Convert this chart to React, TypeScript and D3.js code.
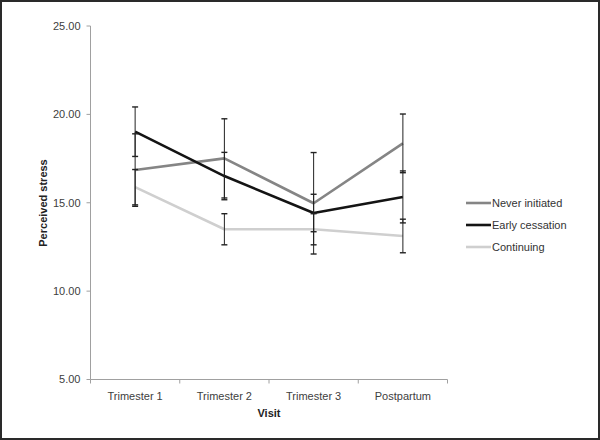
import React from "react";
import * as d3 from "d3";

const categories = ["Trimester 1", "Trimester 2", "Trimester 3", "Postpartum"];
const seriesNames = ["Never initiated", "Early cessation", "Continuing"];
const neverInitiated = [16.85, 17.51, 14.97, 18.36];
const neverInitiatedErr = [2.05, 2.24, 2.87, 1.66];
const earlyCessation = [19.02, 16.51, 14.42, 15.33];
const earlyCessationErr = [1.4, 1.34, 1.06, 1.47];
const continuing = [15.88, 13.5, 13.5, 13.12];
const continuingErr = [1.0, 0.88, 0.88, 0.95];
const yTicks = [5, 10, 15, 20, 25];
const seriesColors = ["#858585", "#141414", "#cfcfcf"];

export default function App() {
  const W = 600, H = 440;
  const left = 90.5, right = 447.5, top = 26, bottom = 379.5;
  const x = d3.scaleBand().domain(categories).range([left, right]);
  const y = d3.scaleLinear().domain([5, 25]).range([bottom, top]);
  const cx = (c: string) => (x(c) as number) + x.bandwidth() / 2;
  const series = [
    { name: seriesNames[0], values: neverInitiated, err: neverInitiatedErr, color: seriesColors[0] },
    { name: seriesNames[1], values: earlyCessation, err: earlyCessationErr, color: seriesColors[1] },
    { name: seriesNames[2], values: continuing, err: continuingErr, color: seriesColors[2] },
  ];
  const line = d3.line<number>().x((_, i) => cx(categories[i])).y((v) => y(v));
  const font = "'Liberation Sans', Arial, sans-serif";
  const xTickPositions = [...categories.map((c) => x(c) as number), right];

  return (
    <svg width={W} height={H} style={{ position: "absolute", left: 0, top: 0, background: "#fff" }} fontFamily={font}>
      <rect x={1} y={1} width={W - 2} height={H - 2} fill="#fff" stroke="#2a2a2a" strokeWidth={2} />
      {/* axes */}
      <line x1={left} x2={left} y1={top} y2={bottom} stroke="#a0a0a0" strokeWidth={1} />
      <line x1={left} x2={right} y1={bottom} y2={bottom} stroke="#a0a0a0" strokeWidth={1} />
      {yTicks.map((t) => (
        <g key={t}>
          <line x1={left - 4} x2={left} y1={y(t)} y2={y(t)} stroke="#a0a0a0" />
          <text x={80.5} y={y(t)} dy="0.35em" textAnchor="end" fontSize={11} fill="#404040">
            {t.toFixed(2)}
          </text>
        </g>
      ))}
      {xTickPositions.map((p, i) => (
        <line key={i} x1={p} x2={p} y1={bottom} y2={bottom + 4} stroke="#a0a0a0" />
      ))}
      {categories.map((c) => (
        <text key={c} x={cx(c)} y={400} textAnchor="middle" fontSize={11} fill="#404040">
          {c}
        </text>
      ))}
      <text x={269} y={417} textAnchor="middle" fontSize={11} fontWeight="bold" fill="#222">
        Visit
      </text>
      <text transform={`translate(47,203) rotate(-90)`} textAnchor="middle" fontSize={11} fontWeight="bold" fill="#222">
        Perceived stress
      </text>
      {/* lines */}
      {series.map((s) => (
        <path key={s.name} d={line(s.values) || ""} fill="none" stroke={s.color} strokeWidth={2.6} strokeLinejoin="round" />
      ))}
      {/* error bars */}
      {series.map((s) =>
        s.values.map((v, i) => {
          const px = cx(categories[i]);
          const hi = y(v + s.err[i]);
          const lo = y(v - s.err[i]);
          return (
            <g key={s.name + i} stroke="#222" strokeWidth={1}>
              <line x1={px} x2={px} y1={hi} y2={lo} />
              <line x1={px - 3} x2={px + 3} y1={hi} y2={hi} strokeWidth={1.4} />
              <line x1={px - 3} x2={px + 3} y1={lo} y2={lo} strokeWidth={1.4} />
            </g>
          );
        })
      )}
      {/* legend */}
      {series.map((s, i) => (
        <g key={s.name} transform={`translate(466,${203 + i * 22})`}>
          <line x1={0} x2={25} y1={0} y2={0} stroke={s.color} strokeWidth={2.6} />
          <text x={26} y={0} dy="0.35em" fontSize={11} fill="#333">
            {s.name}
          </text>
        </g>
      ))}
    </svg>
  );
}
